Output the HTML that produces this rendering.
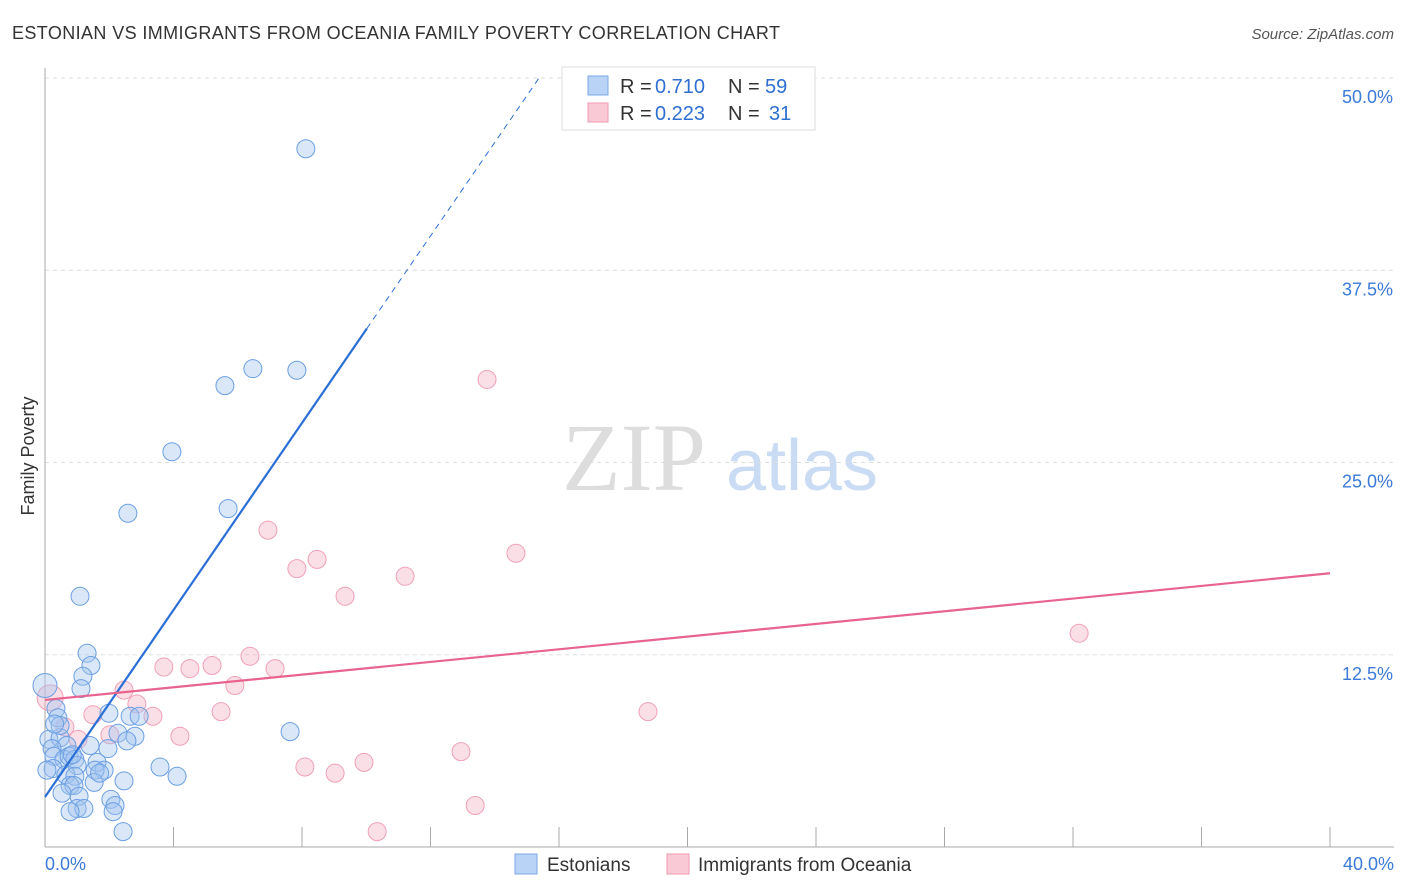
<!DOCTYPE html>
<html><head><meta charset="utf-8"><style>
body{margin:0;background:#fff;font-family:"Liberation Sans",sans-serif;}
svg{display:block}
</style></head><body>
<svg id="c" width="1406" height="892" xmlns="http://www.w3.org/2000/svg">
<text x="12" y="39" font-size="18" fill="#333" textLength="768">ESTONIAN VS IMMIGRANTS FROM OCEANIA FAMILY POVERTY CORRELATION CHART</text>
<text x="1394" y="39" font-size="15" fill="#555" font-style="italic" text-anchor="end">Source: ZipAtlas.com</text>
<text x="34" y="456" font-size="18" fill="#333" transform="rotate(-90 34 456)" text-anchor="middle">Family Poverty</text>
<g><text x="634" y="490" font-size="96" fill="#ddd" font-family="Liberation Serif,serif" text-anchor="middle">ZIP</text><text x="802" y="490" font-size="72" fill="#c9dcf3" text-anchor="middle">atlas</text></g>
<g id="grid"></g><g id="marks"></g>
<g>
<rect x="562" y="67" width="253" height="63" fill="#fff" stroke="#ddd"/>
<rect x="588" y="76" width="20" height="19" fill="#b8d3f5" stroke="#7aaae6"/>
<rect x="588" y="103" width="20" height="19" fill="#f9c9d6" stroke="#ee9ab3"/>
<text x="620" y="93" font-size="20" fill="#333">R =</text><text x="655" y="93" font-size="20" fill="#2e6fd0">0.710</text>
<text x="728" y="93" font-size="20" fill="#333">N =</text><text x="765" y="93" font-size="20" fill="#2e6fd0">59</text>
<text x="620" y="120" font-size="20" fill="#333">R =</text><text x="655" y="120" font-size="20" fill="#2e6fd0">0.223</text>
<text x="728" y="120" font-size="20" fill="#333">N =</text><text x="769" y="120" font-size="20" fill="#2e6fd0">31</text>
</g>
<g>
<rect x="515" y="854" width="22" height="20" fill="#b8d3f5" stroke="#7aaae6"/>
<text x="547" y="871" font-size="19" fill="#333">Estonians</text>
<rect x="667" y="854" width="22" height="20" fill="#f9c9d6" stroke="#ee9ab3"/>
<text x="698" y="871" font-size="19" fill="#333">Immigrants from Oceania</text>
</g>
</svg>
<script>
const yTicks=[12.5,25,37.5,50];
const yTickLabels=["12.5%","25.0%","37.5%","50.0%"];
const xTickLabels=["0.0%","40.0%"];
const blueX=[8.12,6.47,7.84,5.60,3.95,5.70,2.58,1.09,1.31,1.43,1.18,1.12,0,0.34,0.40,1.99,2.65,2.93,2.27,2.80,2.55,1.40,1.96,0.12,0.47,0.68,0.22,0.28,0.59,0.75,0.93,1.62,1.00,0.25,1.84,1.56,3.58,0.65,0.93,4.11,2.46,1.53,0.78,0.90,0.53,1.06,2.05,2.18,2.12,1.00,1.21,0.78,2.43,7.63,0.06,0.47,0.30,1.70,0.85];
const blueY=[45.4,31.1,31.0,30.0,25.7,22.0,21.7,16.3,12.6,11.8,11.1,10.3,10.5,9.0,8.4,8.7,8.5,8.5,7.4,7.2,6.9,6.6,6.4,7.0,7.1,6.6,6.4,5.9,5.7,5.9,5.7,5.5,5.3,5.1,5.0,5.0,5.2,4.7,4.6,4.6,4.3,4.2,4.0,4.0,3.5,3.3,3.1,2.7,2.3,2.5,2.5,2.3,1.0,7.5,5.0,7.9,8.0,4.8,6.0];
const pinkX=[13.76,6.94,14.66,8.47,7.84,11.21,9.34,32.19,6.38,3.70,4.51,5.20,7.16,5.91,2.46,0.16,2.86,5.48,1.49,3.36,18.77,0.62,2.02,4.20,1.03,12.95,9.93,8.09,9.03,13.39,10.34];
const pinkY=[30.4,20.6,19.1,18.7,18.1,17.6,16.3,13.9,12.4,11.7,11.6,11.8,11.6,10.5,10.2,9.7,9.3,8.8,8.6,8.5,8.8,7.8,7.3,7.2,7.0,6.2,5.5,5.2,4.8,2.7,1.0];
const blueFit=[3.25,3.04]; // intercept, slope
const pinkFit=[9.56,0.206];
const NS="http://www.w3.org/2000/svg";
const X=v=>45+v/40*1285, Y=v=>847-v/50*769;
function mk(t,a,p){const e=document.createElementNS(NS,t);for(const k in a)e.setAttribute(k,a[k]);p.appendChild(e);return e;}
const g=document.getElementById('grid'),m=document.getElementById('marks');
yTicks.forEach((t,i)=>{
 const l=mk('line',{x1:45,x2:1394,y1:Y(t),y2:Y(t),stroke:'#ddd','stroke-dasharray':'4,4'},g);
 
 
 const tx=mk('text',{x:1393,y:Y(t)+25,'font-size':18,fill:'#3b7ad8','text-anchor':'end'},g);tx.textContent=yTickLabels[i];
 
 
});
mk('line',{x1:45,x2:45,y1:68,y2:847,stroke:'#aaa'},g);
mk('line',{x1:45,x2:1394,y1:847,y2:847,stroke:'#aaa'},g);
for(let i=1;i<=10;i++){const xx=X(i*4);const t=mk('line',{x1:xx,x2:xx,y1:827,y2:847,stroke:'#aaa'},g);
 
 }
[[0,'start',45],[40,'end',1394]].forEach((d,i)=>{const t=mk('text',{x:d[2],y:870,'font-size':18,fill:'#3b7ad8','text-anchor':d[1]},g);t.textContent=xTickLabels[i];
 
 });
pinkX.forEach((x,i)=>{const r=(i==15)?13:9;const c=mk('circle',{cx:X(x),cy:Y(pinkY[i]),r:r,fill:'rgba(246,175,196,0.4)',stroke:'#f0a0b8','stroke-width':1},m);
 
 });
blueX.forEach((x,i)=>{const r=(i==12)?12:9;const c=mk('circle',{cx:X(x),cy:Y(blueY[i]),r:r,fill:'rgba(160,196,240,0.4)',stroke:'#6c9fe2','stroke-width':1},m);
 
 });
const bEnd=10.02, bx2=(50-blueFit[0])/blueFit[1];
let l=mk('line',{x1:X(0),y1:Y(blueFit[0]),x2:X(bEnd),y2:Y(blueFit[0]+blueFit[1]*bEnd),stroke:'#2a6fd6','stroke-width':2.2},m);


l=mk('line',{x1:X(bEnd),y1:Y(blueFit[0]+blueFit[1]*bEnd),x2:X(bx2),y2:Y(50),stroke:'#2a6fd6','stroke-width':1,'stroke-dasharray':'6,5'},m);


l=mk('line',{x1:X(0),y1:Y(pinkFit[0]),x2:X(40),y2:Y(pinkFit[0]+pinkFit[1]*40),stroke:'#e8638e','stroke-width':2.2},m);


</script>
</body></html>
